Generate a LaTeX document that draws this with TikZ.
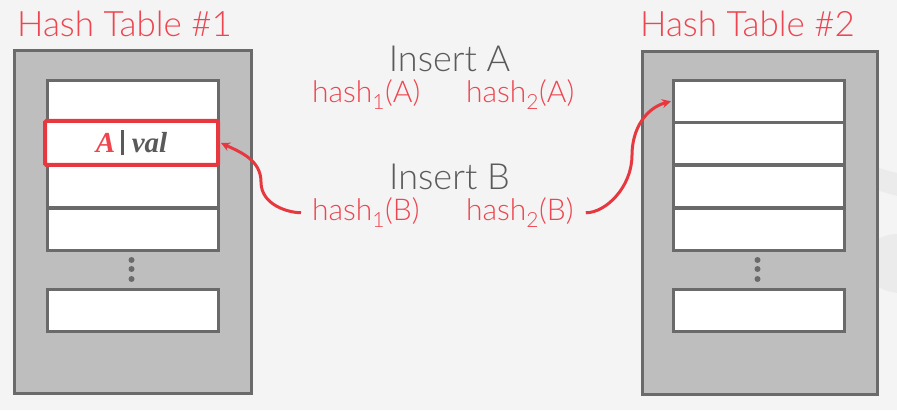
\documentclass[tikz,border=0pt]{standalone}
\usepackage{fontspec}
\setmainfont{Lato}[UprightFont=* Light]
\newfontfamily\serifbi{Liberation Serif}[UprightFont=* Bold Italic]
\usetikzlibrary{arrows.meta}
\definecolor{bg}{HTML}{F4F4F4}
\definecolor{wm}{HTML}{EBEBEB}
\definecolor{tred}{HTML}{EE4550}
\definecolor{ared}{HTML}{E8383F}
\definecolor{tgray}{HTML}{5A5A5A}
\definecolor{boxfill}{HTML}{BEBEBE}
\definecolor{boxline}{HTML}{6A6A6A}
\tikzset{
  table/.style={draw=boxline, fill=boxfill, line width=3pt},
  cell/.style={draw=boxline, fill=white, line width=2.6pt, minimum width=171pt, minimum height=42pt, inner sep=0pt, anchor=north west},
  title/.style={text=tred, font=\fontsize{35}{38}\selectfont, inner sep=0pt, anchor=base west},
  ins/.style={text=tgray, font=\fontsize{36}{39}\selectfont, inner sep=0pt, anchor=base},
  hsh/.style={text=tred, font=\fontsize{30}{33}\selectfont, inner sep=0pt, anchor=base west},
  dot/.style={fill=boxline, circle, inner sep=0pt, minimum size=6pt},
  arr/.style={draw=ared, line width=3pt, -{Stealth[length=9pt,width=9pt]}},
}
\begin{document}
\begin{tikzpicture}[x=1pt,y=1pt]
\useasboundingbox (0,0) rectangle (897,410);
\fill[bg] (0,0) rectangle (897,410);
% faint watermark shapes
\fill[wm] (877,243) .. controls (885,240) and (892,238) .. (897,237) -- (897,214) .. controls (890,216) and (883,218) .. (877,220) -- cycle;
\fill[wm] (877,170) .. controls (885,175) and (892,176) .. (897,176) -- (897,117) .. controls (890,118) and (883,120) .. (877,124) -- cycle;

% Table 1
\node[title] (t1) at (17,373) {Hash Table \#1};
\draw[table] (14,17) rectangle (251,359);
\node[cell] (l1) at (46,331) {};
\node[cell] (l2) at (46,289) {};
\node[cell] (l3) at (46,246) {};
\node[cell] (l4) at (46,203) {};
\node[dot] (ld1) at (131.5,150) {};
\node[dot] (ld2) at (131.5,141) {};
\node[dot] (ld3) at (131.5,131) {};
\node[cell] (l5) at (46,122) {};
\node[draw=ared, fill=white, line width=4pt, minimum width=173pt, minimum height=44pt, inner sep=0pt, rounded corners=1.5pt, font=\serifbi\fontsize{29}{32}\selectfont] (aval) at (131.5,267) {\textcolor{tred}{A}\hspace{6pt}\textcolor{tgray}{\rule[-3pt]{2.6pt}{25pt}}\hspace{8pt}\textcolor{tgray}{val}};

% Table 2
\node[title] (t2) at (640,373) {Hash Table \#2};
\draw[table] (642,16) rectangle (877,358);
\node[cell] (r1) at (672,331) {};
\node[cell] (r2) at (672,289) {};
\node[cell] (r3) at (672,246) {};
\node[cell] (r4) at (672,203) {};
\node[dot] (rd1) at (757.5,150) {};
\node[dot] (rd2) at (757.5,141) {};
\node[dot] (rd3) at (757.5,131) {};
\node[cell] (r5) at (672,122) {};

% Middle text
\node[ins] (ia) at (449.5,338) {Insert A};
\node[hsh] (h1a) at (312,307) {hash\textsubscript{1}(A)};
\node[hsh] (h2a) at (466,307) {hash\textsubscript{2}(A)};
\node[ins] (ib) at (449.5,220) {Insert B};
\node[hsh] (h1b) at (312,189) {hash\textsubscript{1}(B)};
\node[hsh] (h2b) at (466,189) {hash\textsubscript{2}(B)};

% Arrows
\coordinate (c1) at (261,228);
\coordinate (c2) at (632,255);
\draw[arr, shorten <=11pt] (h1b.west) to[out=180,in=-90] (c1) to[out=90,in=-25] ([xshift=1pt]aval.east);
\draw[arr, shorten <=12pt] (h2b.east) to[out=0,in=-90] (c2) to[out=90,in=195] ([xshift=-1pt]r1.west);
\end{tikzpicture}
\end{document}
